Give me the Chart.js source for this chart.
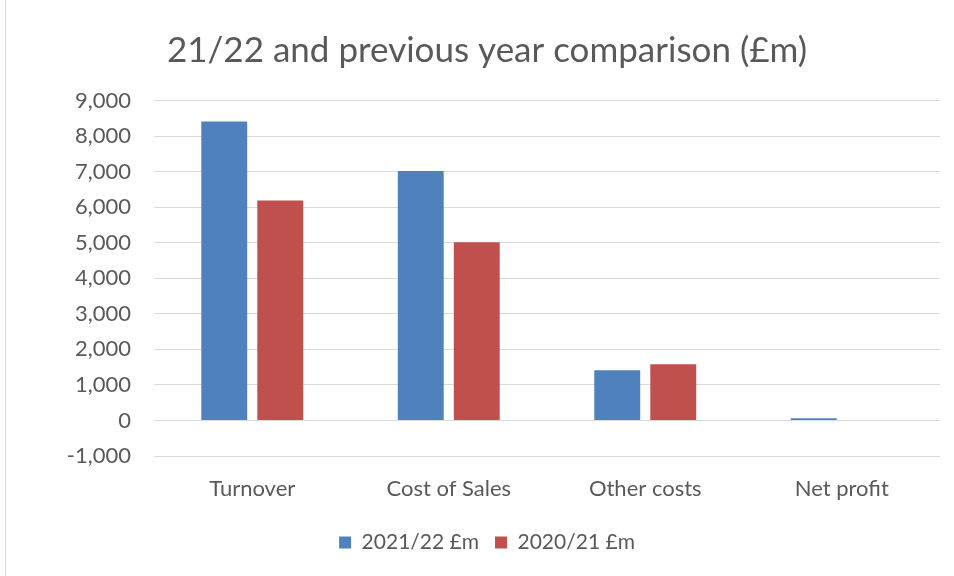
<!DOCTYPE html>
<html>
<head>
<meta charset="utf-8">
<script src="https://cdn.jsdelivr.net/npm/chart.js@4/dist/chart.umd.min.js"></script>
<style>
  html, body { margin: 0; padding: 0; background: #fff; }
  #wrap { position: relative; width: 954px; height: 576px; }
  #edge { position: absolute; left: 5px; top: 0; width: 1px; height: 576px; background: #d9d9d9; }
  canvas { position: absolute; left: 0; top: 0; }
</style>
</head>
<body>
<div id="wrap">
  <div id="edge"></div>
  <canvas id="c" width="954" height="576"></canvas>
</div>
<script>
const categories = ["Turnover", "Cost of Sales", "Other costs", "Net profit"];
const series2122 = [8410, 7020, 1410, 60];
const series2021 = [6190, 5010, 1580, 0];
const seriesNames = ["2021/22 £m", "2020/21 £m"];
const yTicks = { min: -1000, max: 9000, step: 1000 };
const titleText = "21/22 and previous year comparison (£m)";

const FONT = "Lato, 'Open Sans', sans-serif";
const TXT = "#595959";

new Chart(document.getElementById("c"), {
  type: "bar",
  data: {
    labels: categories,
    datasets: [
      { label: seriesNames[0], data: series2122, backgroundColor: "#4F81BD", categoryPercentage: 0.57, barPercentage: 0.82 },
      { label: seriesNames[1], data: series2021, backgroundColor: "#C0504D", categoryPercentage: 0.57, barPercentage: 0.82 }
    ]
  },
  options: {
    responsive: false,
    animation: false,
    layout: { padding: { left: 34, right: 14, top: 0, bottom: 13 } },
    plugins: {
      title: {
        display: true,
        text: titleText,
        color: TXT,
        font: { family: FONT, size: 35, weight: "normal" },
        padding: { top: 30, bottom: 28.5 }
      },
      legend: {
        position: "bottom",
        labels: {
          color: TXT,
          font: { family: FONT, size: 21 },
          boxWidth: 12,
          boxHeight: 12,
          padding: 16,
          useBorderRadius: false
        }
      },
      tooltip: { enabled: false }
    },
    scales: {
      x: {
        grid: { display: false },
        border: { display: false },
        ticks: { color: TXT, font: { family: FONT, size: 22 }, padding: 12 },
        afterFit: (s) => { s.height = 60; }
      },
      y: {
        min: yTicks.min,
        max: yTicks.max,
        grid: { color: "#d9d9d9", lineWidth: 1, drawTicks: false },
        border: { display: false },
        ticks: {
          stepSize: yTicks.step,
          color: TXT,
          font: { family: FONT, size: 22 },
          padding: 23,
          callback: (v) => v.toLocaleString("en-US")
        },
        afterFit: (s) => { s.width = 120; }
      }
    }
  }
});
</script>
</body>
</html>
